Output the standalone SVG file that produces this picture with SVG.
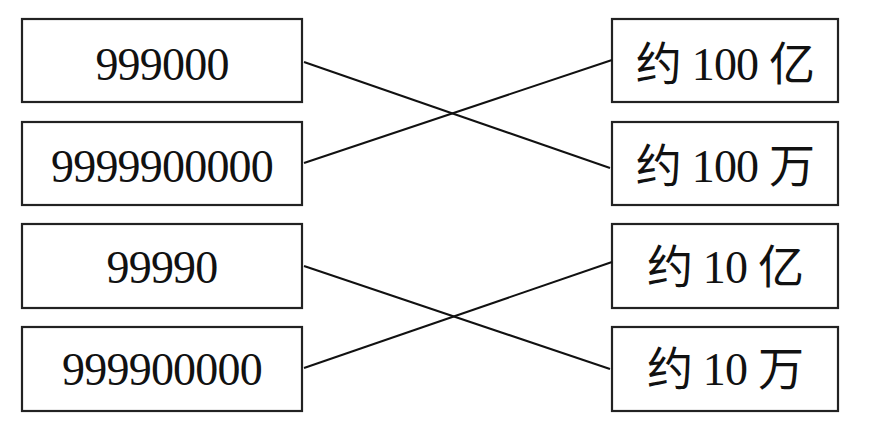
<svg xmlns="http://www.w3.org/2000/svg" width="880" height="427" viewBox="0 0 880 427">
<style>
.box{fill:#fff;stroke:#222;stroke-width:2.2}
.t{font-family:"Liberation Serif","Noto Sans CJK SC",serif;font-size:46px;letter-spacing:-0.8px;fill:#111;text-anchor:middle}
.c{stroke:#111;stroke-width:2;fill:none}
</style>
<rect width="880" height="427" fill="#fff"/>
<g id="n1"><rect class="box" x="22" y="19" width="280" height="83"/><text class="t" x="162" y="80">999000</text></g>
<g id="n2"><rect class="box" x="22" y="122" width="280" height="83"/><text class="t" x="162" y="182">9999900000</text></g>
<g id="n3"><rect class="box" x="22" y="224" width="280" height="84"/><text class="t" x="162" y="283">99990</text></g>
<g id="n4"><rect class="box" x="22" y="327" width="280" height="84"/><text class="t" x="162" y="385">999900000</text></g>
<g id="m1"><rect class="box" x="612" y="19" width="226" height="83"/><text class="t" x="725" y="80">约 100 亿</text></g>
<g id="m2"><rect class="box" x="612" y="122" width="226" height="83"/><text class="t" x="725" y="182">约 100 万</text></g>
<g id="m3"><rect class="box" x="612" y="224" width="226" height="84"/><text class="t" x="725" y="283">约 10 亿</text></g>
<g id="m4"><rect class="box" x="612" y="327" width="226" height="84"/><text class="t" x="725" y="385">约 10 万</text></g>
<g id="connectors">
<line class="c" x1="304" y1="62" x2="610" y2="168"/>
<line class="c" x1="304" y1="163" x2="612" y2="60"/>
<line class="c" x1="304" y1="266" x2="610" y2="369"/>
<line class="c" x1="304" y1="368" x2="612" y2="262"/>
</g>
</svg>
